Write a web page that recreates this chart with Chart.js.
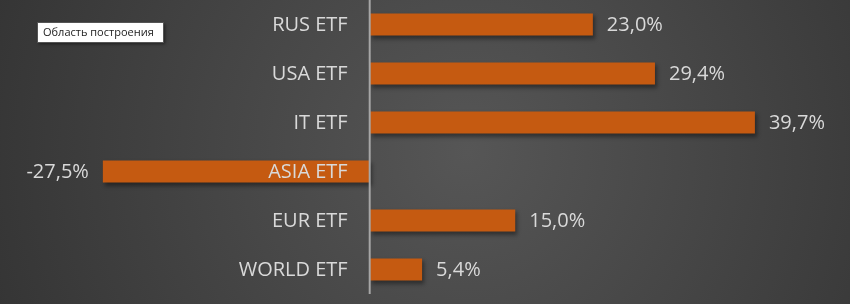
<!DOCTYPE html>
<html><head><meta charset="utf-8">
<script src="https://cdn.jsdelivr.net/npm/chart.js@4/dist/chart.umd.min.js"></script>
<style>html,body{margin:0;padding:0;background:#3a3a3a;}#wrap{width:850px;height:304px;position:relative;}</style>
</head><body><div id="wrap"><canvas id="c" width="850" height="304"></canvas></div>
<script>
const categories = ["RUS ETF","USA ETF","IT ETF","ASIA ETF","EUR ETF","WORLD ETF"];
const values = [23.0, 29.4, 39.7, -27.5, 15.0, 5.4];
const tooltipText = "Область построения";
const fmt = v => v.toFixed(1).replace('.', ',') + '%';
const FONT = '"Open Sans", "Noto Sans", sans-serif';

const bgPlugin = {
  id: 'bg',
  beforeDraw(chart) {
    const ctx = chart.ctx, w = chart.width, h = chart.height;
    const g = ctx.createRadialGradient(w*0.55, h*0.5, 0, w*0.55, h*0.5, w*0.6);
    g.addColorStop(0, '#565656');
    g.addColorStop(1, '#343434');
    ctx.save(); ctx.fillStyle = g; ctx.fillRect(0,0,w,h); ctx.restore();
  },
  beforeDatasetsDraw(chart) {
    const ctx = chart.ctx;
    ctx.save();
    ctx.shadowColor = 'rgba(0,0,0,0.4)';
    ctx.shadowBlur = 4; ctx.shadowOffsetX = 2; ctx.shadowOffsetY = 3;
  },
  afterDatasetsDraw(chart) {
    const ctx = chart.ctx;
    ctx.restore();
    const x = chart.scales.x;
    const x0 = x.getPixelForValue(0);
    ctx.save();
    ctx.strokeStyle = '#a6a6a6'; ctx.lineWidth = 2;
    ctx.beginPath(); ctx.moveTo(x0, 0); ctx.lineTo(x0, 294); ctx.stroke();
    ctx.font = '20px ' + FONT;
    ctx.fillStyle = '#d9d9d9';
    ctx.textBaseline = 'middle';
    const meta = chart.getDatasetMeta(0);
    meta.data.forEach((bar, i) => {
      const cy = bar.y;
      ctx.textAlign = 'right';
      ctx.fillText(categories[i], x0 - 22, cy + 1);
      const v = values[i];
      if (v >= 0) { ctx.textAlign = 'left'; ctx.fillText(fmt(v), bar.x + 14, cy + 1); }
      else { ctx.textAlign = 'right'; ctx.fillText(fmt(v), bar.x - 14, cy + 1); }
    });
    ctx.font = '11px ' + FONT;
    ctx.shadowColor = 'rgba(0,0,0,0.5)'; ctx.shadowBlur = 3; ctx.shadowOffsetX = 2; ctx.shadowOffsetY = 2;
    ctx.fillStyle = '#ffffff';
    ctx.fillRect(37, 22, 126, 20);
    ctx.shadowColor = 'transparent';
    ctx.strokeStyle = '#555555'; ctx.lineWidth = 1;
    ctx.strokeRect(37.5, 22.5, 126, 20);
    ctx.fillStyle = '#222222'; ctx.textAlign = 'left';
    ctx.fillText(tooltipText, 43, 33);
    ctx.restore();
  }
};

new Chart(document.getElementById('c'), {
  type: 'bar',
  data: { labels: categories, datasets: [{ data: values, backgroundColor: '#c55a11', borderWidth: 0,
    categoryPercentage: 1, barPercentage: 0.45 }] },
  options: {
    indexAxis: 'y', responsive: false, animation: false,
    layout: { padding: { left: 0, right: 0, top: 0, bottom: 10 } },
    plugins: { legend: { display: false }, tooltip: { enabled: false } },
    scales: {
      x: { display: false, min: -38.1, max: 49.5 },
      y: { display: false }
    }
  },
  plugins: [bgPlugin]
});
</script></body></html>
